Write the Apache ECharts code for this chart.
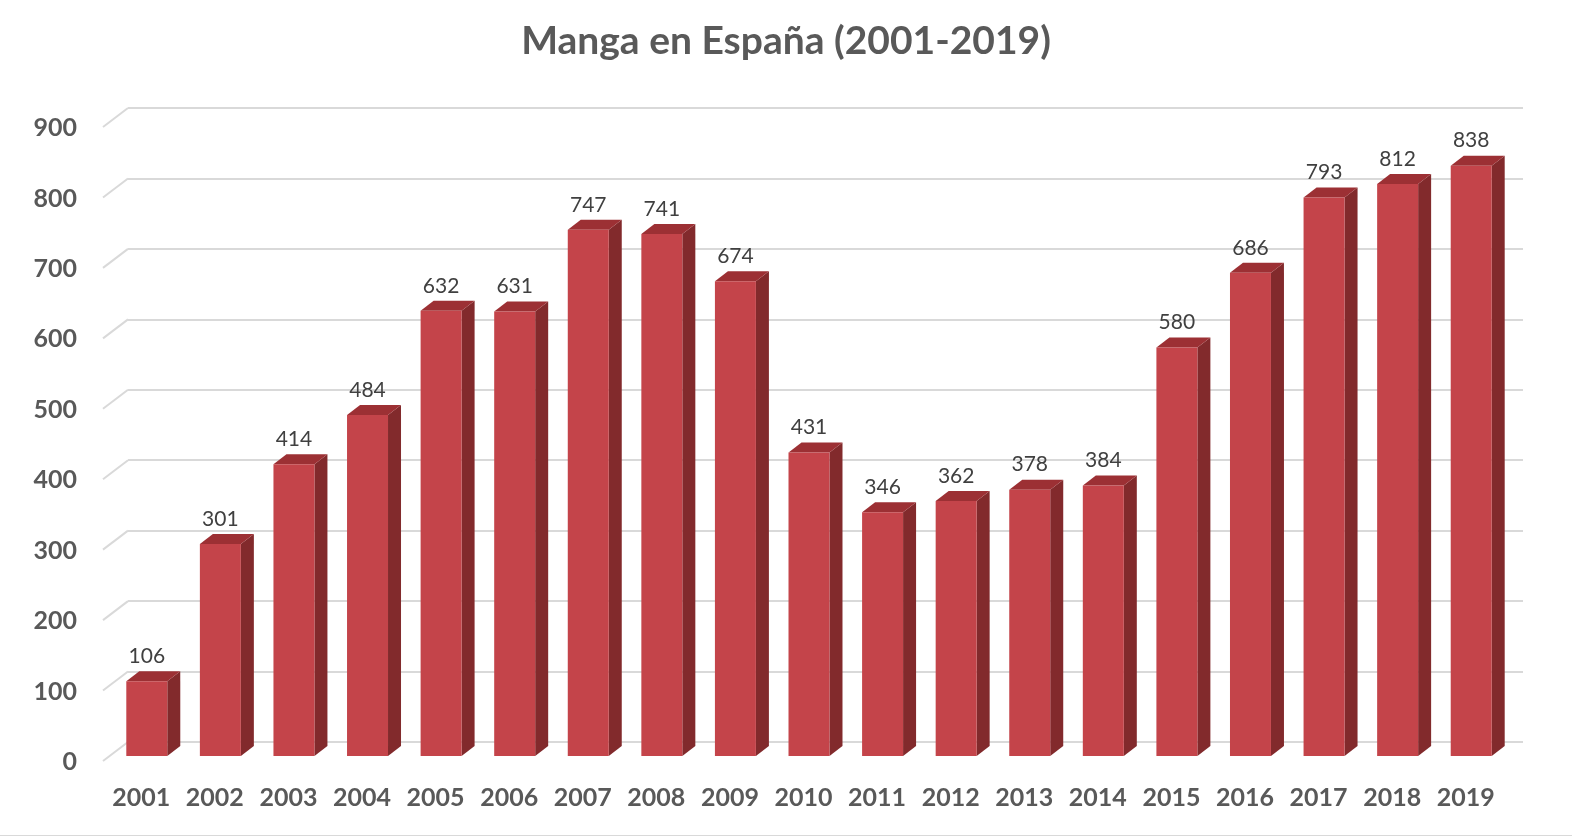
<!DOCTYPE html>
<html><head><meta charset="utf-8">
<script src="https://cdn.jsdelivr.net/npm/echarts@6/dist/echarts.min.js"></script>
<style>html,body{margin:0;padding:0;background:#fff}#c{width:1572px;height:837px}</style>
</head><body><div id="c"></div>
<script>
var years = ['2001','2002','2003','2004','2005','2006','2007','2008','2009','2010','2011','2012','2013','2014','2015','2016','2017','2018','2019'];
var values = [106,301,414,484,632,631,747,741,674,431,346,362,378,384,580,686,793,812,838];
var gridTicks = [0,100,200,300,400,500,600,700,800,900];
var titleText = 'Manga en España (2001-2019)';

var FONT = 'Lato, "Open Sans", sans-serif';
var chart = echarts.init(document.getElementById('c'), null, {renderer:'canvas'});
var DX = 13, DY = -10;
chart.setOption({
  animation:false,
  title:{text:titleText,left:'center',top:17,textStyle:{fontFamily:FONT,fontSize:39,fontWeight:'bold',color:'#595959'}},
  grid:[
    {left:110,right:64,top:122,bottom:81,containLabel:false},
    {left:128,right:49,top:108,bottom:95,containLabel:false}
  ],
  xAxis:[
    {type:'category',data:years,gridIndex:0,axisLine:{show:false},axisTick:{show:false},
     axisLabel:{interval:0,fontFamily:FONT,fontSize:25,fontWeight:'bold',color:'#595959',margin:29,padding:[0,11,0,0]}},
    {type:'value',gridIndex:1,min:0,max:1,show:false}
  ],
  yAxis:[
    {type:'value',gridIndex:0,min:0,max:900,interval:100,axisLine:{show:false},axisTick:{show:false},splitLine:{show:false},
     axisLabel:{fontFamily:FONT,color:'#595959',margin:33,formatter:'{a|{value}}',
       rich:{a:{fontFamily:FONT,fontSize:25,fontWeight:'bold',color:'#595959',padding:[12,0,0,0]}}}},
    {type:'value',gridIndex:1,min:0,max:900,interval:100,axisLine:{show:false},axisTick:{show:false},axisLabel:{show:false},
     splitLine:{show:true,lineStyle:{color:'#d9d9d9',width:2}}}
  ],
  series:[
    {type:'custom',xAxisIndex:1,yAxisIndex:1,z:1,silent:true,
     data:gridTicks.map(function(v){return [0,v];}),
     renderItem:function(params,api){
       var p = api.coord([0, api.value(1)]);
       return {type:'line',shape:{x1:p[0]-25,y1:p[1]+19,x2:p[0],y2:p[1]},style:{stroke:'#d9d9d9',lineWidth:2}};
     }},
    {type:'custom',xAxisIndex:0,yAxisIndex:0,z:5,
     data:values.map(function(v,i){return [i,v];}),
     renderItem:function(params,api){
       var i = api.value(0), v = api.value(1);
       var top = api.coord([i, v]), base = api.coord([i, 0]);
       var w = api.size([1,0])[0]*0.557;
       var x0 = top[0]-w/2, x1 = top[0]+w/2, yt = top[1], yb = base[1];
       return {type:'group',children:[
         {type:'polygon',shape:{points:[[x1,yt],[x1+DX,yt+DY],[x1+DX,yb+DY],[x1,yb]]},style:{fill:'#822a2c'}},
         {type:'polygon',shape:{points:[[x0,yt],[x0+DX,yt+DY],[x1+DX,yt+DY],[x1,yt]]},style:{fill:'#9c3034'}},
         {type:'rect',shape:{x:x0,y:yt,width:w,height:yb-yt},style:{fill:'#c4444a'}},
         {type:'text',x:top[0],y:yt-25,style:{text:String(v),fontFamily:FONT,fontSize:21,fill:'#404040',align:'center',verticalAlign:'middle'}}
       ]};
     }}
  ],
  graphic:[{type:'line',shape:{x1:0,y1:835.5,x2:1572,y2:835.5},style:{stroke:'#d9d9d9',lineWidth:1}}]
});
</script></body></html>
